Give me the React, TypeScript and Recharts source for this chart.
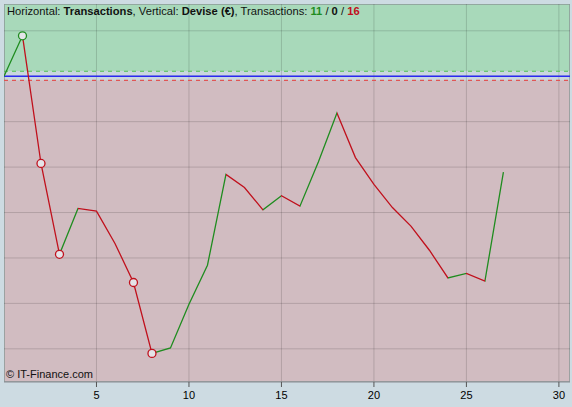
import { ComposedChart, Line, XAxis, YAxis, ReferenceArea, ReferenceLine } from 'recharts'

// transaction number (horizontal) and cumulated result in € (vertical)
const transactions = [0, 1, 2, 3, 4, 5, 6, 7, 8, 9, 10, 11, 12, 13, 14, 15, 16, 17, 18, 19, 20, 21, 22, 23, 24, 25, 26, 27]
const balance = [0, 89, -192, -392, -291, -297, -368, -454, -610, -598, -502, -416, -216, -245, -294, -263, -286, -188, -81, -179, -238, -289, -330, -383, -444, -434, -451, -211]
const markers = [1, 2, 3, 7, 8]
const xTicks = [5, 10, 15, 20, 25, 30]
const yGrid = [-600, -500, -400, -300, -200, -100, 0, 100]
const upperLimit = 11
const lowerLimit = -9

const X_MAX = 30.6
const Y_MIN = -673
const Y_MAX = 159

const GREEN = '#1f8c1f'
const RED = '#c0101c'
const FONT = 'Arial, "Liberation Sans", sans-serif'

export default function App() {
  const data = transactions.map((t, i) => ({ t, v: balance[i] }))
  const last = transactions.length - 1
  const segColor = (i: number) => (balance[i + 1] >= balance[i] ? GREEN : RED)

  // hard stops so each segment keeps one colour (green = gain, red = loss)
  const stops: { offset: number; color: string }[] = []
  for (let i = 0; i < last; i++) {
    stops.push({ offset: i / last, color: segColor(i) })
    stops.push({ offset: (i + 1) / last, color: segColor(i) })
  }

  const renderDot = (props: any) => {
    const { cx, cy, index } = props
    if (!markers.includes(index)) return <g key={'d' + index} />
    const c = index > 0 ? segColor(index - 1) : GREEN
    return <circle key={'d' + index} cx={cx} cy={cy} r={4} fill="#e4e4e8" stroke={c} strokeWidth={1.3} />
  }

  return (
    <div style={{ position: 'absolute', left: 0, top: 0, width: 572, height: 407, background: '#cddbe2', fontFamily: FONT }}>
      <ComposedChart width={572} height={407} data={data} margin={{ top: 4, right: 2, left: 4, bottom: 0 }}>
        <defs>
          <linearGradient id="segs" x1="0" y1="0" x2="1" y2="0">
            {stops.map((s, i) => (
              <stop key={i} offset={s.offset} stopColor={s.color} />
            ))}
          </linearGradient>
        </defs>
        <ReferenceArea x1={0} x2={X_MAX} y1={upperLimit} y2={Y_MAX} fill="#a8d9ba" fillOpacity={1} stroke="none" ifOverflow="hidden" />
        <ReferenceArea x1={0} x2={X_MAX} y1={lowerLimit} y2={upperLimit} fill="#c9d7dd" fillOpacity={1} stroke="none" ifOverflow="hidden" />
        <ReferenceArea x1={0} x2={X_MAX} y1={Y_MIN} y2={lowerLimit} fill="#d1bcc1" fillOpacity={1} stroke="none" ifOverflow="hidden" />
        {yGrid.map((y) => (
          <ReferenceLine key={'h' + y} y={y} stroke="#000" strokeOpacity={0.15} />
        ))}
        {xTicks.map((x) => (
          <ReferenceLine key={'v' + x} x={x} stroke="#000" strokeOpacity={0.15} />
        ))}
        <XAxis
          dataKey="t"
          type="number"
          domain={[0, X_MAX]}
          ticks={xTicks}
          height={25}
          axisLine={{ stroke: '#8a8c92' }}
          tickLine={{ stroke: '#555' }}
          tickSize={5}
          tick={{ fontSize: 11, fill: '#000', fontFamily: FONT, dy: 2 }}
          allowDataOverflow
        />
        <YAxis hide domain={[Y_MIN, Y_MAX]} ticks={yGrid} allowDataOverflow />
        <ReferenceLine y={upperLimit} stroke="#4fc04f" strokeDasharray="4 4" strokeWidth={1.2} />
        <ReferenceLine y={lowerLimit} stroke="#e05555" strokeDasharray="4 4" strokeWidth={1.2} />
        <ReferenceLine y={0} stroke="#2a2af0" strokeWidth={1.5} />
        <ReferenceArea x1={0} x2={X_MAX} y1={Y_MIN} y2={Y_MAX} fill="none" stroke="#8a9896" strokeWidth={1.5} ifOverflow="hidden" />
        <Line dataKey="v" stroke="url(#segs)" strokeWidth={1.3} dot={renderDot} activeDot={false} isAnimationActive={false} />
      </ComposedChart>
      <div style={{ position: 'absolute', left: 7, top: 5, fontSize: 11.2, color: '#111', whiteSpace: 'nowrap' }}>
        Horizontal: <b>Transactions</b>, Vertical: <b>Devise (€)</b>, Transactions: <b style={{ color: GREEN }}>11</b> / <b>0</b> /{' '}
        <b style={{ color: RED }}>16</b>
      </div>
      <div style={{ position: 'absolute', left: 6, top: 368, fontSize: 11, color: '#111', whiteSpace: 'nowrap' }}>© IT-Finance.com</div>
    </div>
  )
}
